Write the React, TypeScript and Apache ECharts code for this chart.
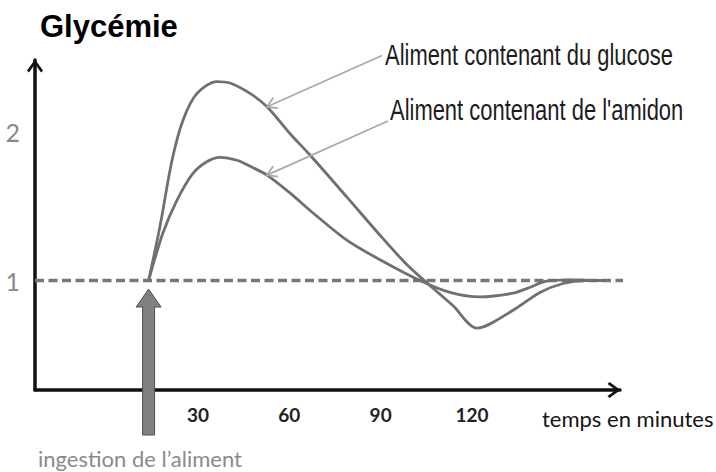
import React, { useEffect, useRef } from "react";
import * as echarts from "echarts";

const titleText = "Glycémie";
const xAxisName = "temps en minutes";
const ingestionLabel = "ingestion de l’aliment";
const glucoseName = "Aliment contenant du glucose";
const amidonName = "Aliment contenant de l'amidon";

const xTickValues = [30, 60, 90, 120];
const yTickValues = [1, 2];
const ingestionTime = 13.8;
const baselineLevel = 1;
const baselineExtent = [-23.5, 171];

const glucoseTime = [13.8, 17.5, 21.5, 25.1, 29.7, 36.2, 40.5, 47.1, 52.7, 60.2, 66.8, 79.0, 89.8, 98.0, 104.6, 113.8, 121.6, 133.5, 142.3, 149.9, 157.1, 163.8];
const glucoseLevel = [1.0, 1.36, 1.81, 2.08, 2.26, 2.34, 2.33, 2.26, 2.17, 1.99, 1.845, 1.56, 1.305, 1.12, 0.995, 0.83, 0.68, 0.8, 0.92, 0.98, 1.0, 1.0];
const amidonTime = [13.8, 18.5, 23.1, 28.3, 32.9, 37.2, 42.8, 48.1, 52.7, 60.2, 67.8, 79.0, 89.8, 102.9, 112.8, 122.6, 133.5, 139.1, 144.0, 152.2, 163.8];
const amidonLevel = [1.0, 1.32, 1.54, 1.72, 1.8, 1.83, 1.81, 1.76, 1.71, 1.59, 1.455, 1.27, 1.14, 1.0, 0.92, 0.89, 0.915, 0.955, 0.995, 1.005, 1.0];

// index of the curve point each annotation arrow points at
const glucoseArrowIndex = 8;
const amidonArrowIndex = 8;

const CHEVRON = "path://M8,0 L16,11 L14,13 L8,4.6 L2,13 L0,11 Z";

function zip(xs: number[], ys: number[]) {
  return xs.map((x, i) => [x, ys[i]]);
}

function arrowGraphics(from: number[], to: number[], color: string) {
  const dx = from[0] - to[0];
  const dy = from[1] - to[1];
  const len = Math.hypot(dx, dy);
  const ux = dx / len;
  const uy = dy / len;
  const L = 11;
  const rot = (a: number) => [
    to[0] + L * (ux * Math.cos(a) - uy * Math.sin(a)),
    to[1] + L * (ux * Math.sin(a) + uy * Math.cos(a)),
  ];
  return [
    {
      type: "line",
      z: 50,
      shape: { x1: from[0], y1: from[1], x2: to[0], y2: to[1] },
      style: { stroke: color, lineWidth: 1.8 },
    },
    {
      type: "polyline",
      z: 50,
      shape: { points: [rot(0.55), to, rot(-0.55)] },
      style: { stroke: color, lineWidth: 1.8, fill: null },
    },
  ];
}

export default function App() {
  const ref = useRef<HTMLDivElement>(null);

  useEffect(() => {
    document.body.style.margin = "0";
    if (!ref.current) return;
    const chart = echarts.init(ref.current, null, { renderer: "svg" });
    const curveColor = "#707070";
    chart.setOption({
      animation: false,
      backgroundColor: "#ffffff",
      title: {
        text: titleText,
        left: 40,
        top: 10.5,
        padding: 0,
        textStyle: {
          fontFamily: "Liberation Sans",
          fontWeight: "bold",
          fontSize: 31,
          color: "#000",
        },
      },
      grid: {
        left: 35,
        right: 96,
        top: 60,
        bottom: 82,
        containLabel: false,
        outerBoundsMode: "none",
      },
      xAxis: {
        type: "value",
        min: -23.5,
        max: 168.6,
        splitLine: { show: false },
        axisTick: { show: false },
        axisLine: {
          onZero: false,
          symbol: ["none", CHEVRON],
          symbolSize: [16, 13],
          symbolOffset: [0, -6],
          lineStyle: { color: "#111", width: 3.5 },
        },
        axisLabel: {
          customValues: xTickValues,
          margin: 15,
          fontFamily: "Lato",
          fontWeight: "bold",
          fontSize: 19,
          color: "#222",
        },
      },
      yAxis: {
        type: "value",
        min: 0.263,
        max: 2.485,
        splitLine: { show: false },
        axisTick: { show: false },
        axisLine: {
          show: true,
          onZero: false,
          symbol: ["none", CHEVRON],
          symbolSize: [16, 13],
          symbolOffset: [0, -6],
          lineStyle: { color: "#111", width: 3.5 },
        },
        axisLabel: {
          customValues: yTickValues,
          margin: 15,
          fontFamily: "Lato",
          fontSize: 25,
          color: "#8a8a8a",
        },
      },
      series: [
        {
          type: "line",
          name: "base",
          data: baselineExtent.map((x) => [x, baselineLevel]),
          symbol: "none",
          clip: false,
          lineStyle: { color: "#777", width: 3.5, type: [9, 4.5] },
          z: 1,
        },
        {
          type: "line",
          name: glucoseName,
          data: zip(glucoseTime, glucoseLevel),
          symbol: "none",
          smooth: 0.3,
          clip: false,
          lineStyle: { color: curveColor, width: 2.8 },
          z: 3,
        },
        {
          type: "line",
          name: amidonName,
          data: zip(amidonTime, amidonLevel),
          symbol: "none",
          smooth: 0.3,
          clip: false,
          lineStyle: { color: curveColor, width: 2.8 },
          z: 3,
        },
      ],
    });

    const toPx = (p: number[]) => chart.convertToPixel({ gridIndex: 0 }, p) as number[];
    const gTo = toPx([glucoseTime[glucoseArrowIndex], glucoseLevel[glucoseArrowIndex]]);
    const aTo = toPx([amidonTime[amidonArrowIndex], amidonLevel[amidonArrowIndex]]);
    const ing = toPx([ingestionTime, baselineLevel]);
    const axisBottom = toPx([ingestionTime, 0.263])[1];
    const cx = ing[0];
    const tipY = ing[1] + 8.5;
    const baseY = tipY + 18;
    const botY = axisBottom + 45;
    const labelColor = "#1c1c1c";
    const arrowColor = "#a9a9a9";

    chart.setOption({
      graphic: [
        ...arrowGraphics([382, 55.5], [gTo[0], gTo[1]], arrowColor),
        ...arrowGraphics([388, 121], [aTo[0], aTo[1]], arrowColor),
        {
          type: "text",
          x: 385,
          y: 55,
          scaleX: 0.757,
          z: 60,
          style: {
            text: glucoseName,
            fontFamily: "Liberation Sans",
            fontSize: 29,
            fill: labelColor,
            align: "left",
            verticalAlign: "middle",
          },
        },
        {
          type: "text",
          x: 390,
          y: 110,
          scaleX: 0.757,
          z: 60,
          style: {
            text: amidonName,
            fontFamily: "Liberation Sans",
            fontSize: 29,
            fill: labelColor,
            align: "left",
            verticalAlign: "middle",
          },
        },
        {
          type: "polygon",
          z: 100,
          shape: {
            points: [
              [cx, tipY],
              [cx + 12.5, baseY],
              [cx + 6, baseY],
              [cx + 6, botY],
              [cx - 6, botY],
              [cx - 6, baseY],
              [cx - 12.5, baseY],
            ],
          },
          style: { fill: "#808080", stroke: "#505050", lineWidth: 1 },
        },
        {
          type: "text",
          x: 542,
          y: 418.5,
          z: 60,
          style: {
            text: xAxisName,
            fontFamily: "Lato",
            fontSize: 22,
            fill: "#151515",
            align: "left",
            verticalAlign: "middle",
          },
        },
        {
          type: "text",
          x: 38,
          y: 458.5,
          z: 60,
          style: {
            text: ingestionLabel,
            fontFamily: "Lato",
            fontSize: 22,
            fill: "#8a8a8a",
            align: "left",
            verticalAlign: "middle",
          },
        },
      ],
    });

    return () => chart.dispose();
  }, []);

  return <div ref={ref} style={{ width: 716, height: 472 }} />;
}
